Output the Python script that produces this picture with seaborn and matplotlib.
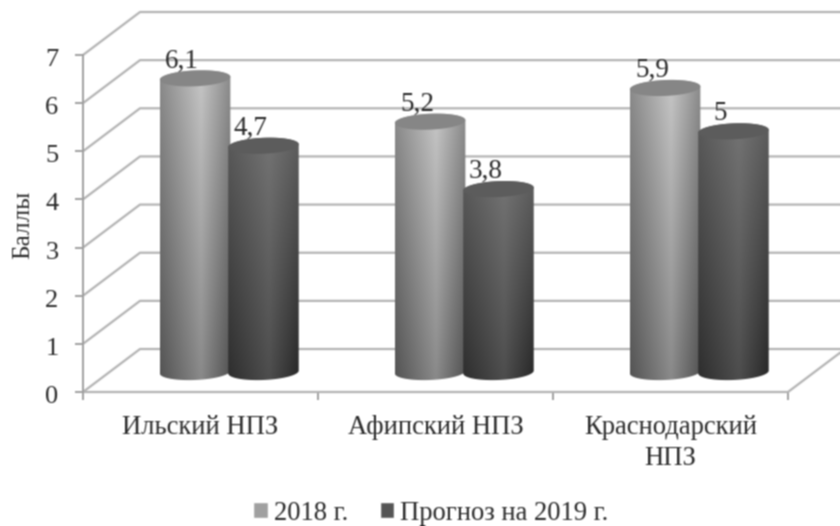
"""Cylinder-style bar chart of refinery scores, 2018 vs forecast for 2019."""

import matplotlib

matplotlib.use("Agg")

import matplotlib.pyplot as plt
from matplotlib.patches import Polygon
from matplotlib.transforms import ScaledTranslation
import numpy as np
import pandas as pd
import seaborn as sns

refineries = ["Ильский НПЗ", "Афипский НПЗ", "Краснодарский\nНПЗ"]
scores_2018 = [6.1, 5.2, 5.9]
scores_2019 = [4.7, 3.8, 5.0]
series_names = ["2018 г.", "Прогноз на 2019 г."]
y_ticks = [0, 1, 2, 3, 4, 5, 6, 7]

GRID = "#b4b4b4"
AXIS = "#a0a0a0"
TEXT = "#2a2a2a"

# depth of the fake 3D box, in data units
DEPTH_X = 0.2426
DEPTH_Y = 0.893
# cylinders stand about halfway into the box
BAR_DX = 0.127
BAR_DY = 0.415
# the second cylinder of a pair overlaps the first slightly
PAIR_OVERLAP = 0.009
CAP_HEIGHT = 0.165
CAP_TILT = 0.03

# (left, peak, right) grey levels at the top and bottom of each cylinder
SHADES = {
    series_names[0]: {"top": (140, 198, 140), "bottom": (84, 138, 82), "cap": "#868686"},
    series_names[1]: {"top": (90, 116, 94), "bottom": (46, 78, 40), "cap": "#5c5c5c"},
}


def soften(img, dpi):
    # the reference is a blurry scan, so smooth the finished figure a little
    kernel = np.array([1, 2, 1]) / 4
    out = np.pad(img, ((1, 1), (1, 1), (0, 0)), mode="edge")
    out = np.apply_along_axis(lambda c: np.convolve(c, kernel, mode="same"), 0, out)
    out = np.apply_along_axis(lambda c: np.convolve(c, kernel, mode="same"), 1, out)
    return out[1:-1, 1:-1], 0, 0


def arc_points(x0, width, y, start, stop, n=60):
    t = np.linspace(start, stop, n)
    xs = x0 + width / 2 + width / 2 * np.cos(t)
    ys = y + CAP_HEIGHT * np.sin(t) + CAP_TILT * np.cos(t)
    return np.column_stack([xs, ys])


def draw_cylinder(ax, bar, shade, zorder):
    x0, width = bar.get_x(), bar.get_width()
    y0, y1 = bar.get_y(), bar.get_y() + bar.get_height()

    pos = np.array([0.0, 0.58, 1.0])
    across = np.linspace(0, 1, 90)
    top = np.interp(across, pos, shade["top"])
    bottom = np.interp(across, pos, shade["bottom"])
    along = np.linspace(0, 1, 120)[:, None]
    img = top[None, :] * (1 - along) + bottom[None, :] * along

    # side wall: bottom arc plus the two straight edges
    body_pts = np.vstack([
        arc_points(x0, width, y1, np.pi, 0),
        arc_points(x0, width, y0, 0, -np.pi),
    ])
    body = Polygon(body_pts, closed=True, facecolor="none", edgecolor="none", zorder=zorder)
    ax.add_patch(body)
    im = ax.imshow(
        img,
        cmap="gray",
        vmin=0,
        vmax=255,
        extent=(x0, x0 + width, y0 - CAP_HEIGHT - CAP_TILT, y1 + CAP_HEIGHT),
        aspect="auto",
        interpolation="bilinear",
        zorder=zorder,
    )
    im.set_clip_path(body)

    cap = Polygon(arc_points(x0, width, y1, 0, 2 * np.pi), closed=True,
                  facecolor=shade["cap"], edgecolor="none", zorder=zorder + 0.1)
    ax.add_patch(cap)


def main():
    sns.set_theme(style="white")
    plt.rcParams["font.family"] = ["Liberation Serif", "DejaVu Serif"]

    df = pd.DataFrame({
        "refinery": refineries * 2,
        "score": scores_2018 + scores_2019,
        "series": [series_names[0]] * 3 + [series_names[1]] * 3,
    })

    fig = plt.figure(figsize=(8.4, 5.26), dpi=100)
    ax = fig.add_axes([83 / 840, 1 - 392 / 526, 705 / 840, 337 / 526])

    sns.barplot(
        data=df,
        x="refinery",
        y="score",
        hue="series",
        palette=["#a0a0a0", "#555555"],
        width=0.6,
        gap=0,
        ax=ax,
    )

    xmin, xmax = -0.5, 2.5
    # box: side wall, back wall and floor
    for v in y_ticks:
        ax.plot([xmin, xmin + DEPTH_X, xmax + DEPTH_X], [v, v + DEPTH_Y, v + DEPTH_Y],
                color=GRID, lw=1.6, clip_on=False, zorder=1)
    ax.plot([xmin, xmax, xmax + DEPTH_X], [0, 0, DEPTH_Y], color=GRID, lw=1.6,
            clip_on=False, zorder=1)

    n_bars = len(scores_2018)
    bars = [p for p in ax.patches if p.get_height() > 0]
    for i, bar in enumerate(bars):
        series_idx = i // n_bars
        bar.set_x(bar.get_x() + BAR_DX - series_idx * PAIR_OVERLAP)
        bar.set_y(BAR_DY)
        bar.set_visible(False)
        draw_cylinder(ax, bar, SHADES[series_names[series_idx]], zorder=3 + i)
        ax.annotate(
            f"{bar.get_height():g}".replace(".", ","),
            xy=(bar.get_x() + bar.get_width() / 2 - 0.055, BAR_DY + bar.get_height()),
            xytext=(0, 12.5),
            textcoords="offset points",
            ha="center",
            va="center",
            fontsize=19.5,
            color=TEXT,
            zorder=20,
        )

    ax.set_xlim(xmin, xmax)
    ax.set_ylim(0, 7)
    ax.set_yticks(y_ticks)
    ax.set_xticks([-0.5, 0.5, 1.5, 2.5])
    ax.set_xticklabels([])
    ax.set_xticks([0, 1, 2], labels=refineries, minor=True)
    ax.tick_params(axis="x", which="major", length=6, width=1.4, color=AXIS,
                   direction="out", bottom=True)
    ax.tick_params(axis="x", which="minor", length=0, pad=16.5, labelsize=19.2,
                   labelcolor=TEXT)
    ax.tick_params(axis="y", length=6, width=1.4, color=AXIS, direction="out", left=True,
                   pad=16.4, labelsize=19, labelcolor=TEXT)
    for label in ax.get_xticklabels(minor=True):
        label.set_linespacing(1.33)
    nudge = ScaledTranslation(0, -2.5 / 100, fig.dpi_scale_trans)
    for label in ax.get_yticklabels():
        label.set_horizontalalignment("center")
        label.set_transform(label.get_transform() + nudge)

    ax.set_xlabel("")
    ax.set_ylabel("")
    fig.text(23 / 840, 1 - 225 / 526, "Баллы", rotation=90, ha="center", va="center",
             fontsize=18.3, color=TEXT)

    sns.despine(ax=ax, top=True, right=True, bottom=True)
    ax.spines["left"].set_color(AXIS)
    ax.spines["left"].set_linewidth(1.4)
    ax.patch.set_visible(False)

    sns.move_legend(
        ax,
        "center",
        bbox_to_anchor=(431 / 840, 1 - 513 / 526),
        bbox_transform=fig.transFigure,
        ncol=2,
        frameon=False,
        title=None,
        fontsize=19.2,
        handlelength=0.53,
        handleheight=0.5,
        handletextpad=0.23,
        columnspacing=1.2,
        labelcolor=TEXT,
    )

    fig.set_agg_filter(soften)
    fig.savefig("out.png", dpi=100)
    plt.close(fig)


if __name__ == "__main__":
    main()
